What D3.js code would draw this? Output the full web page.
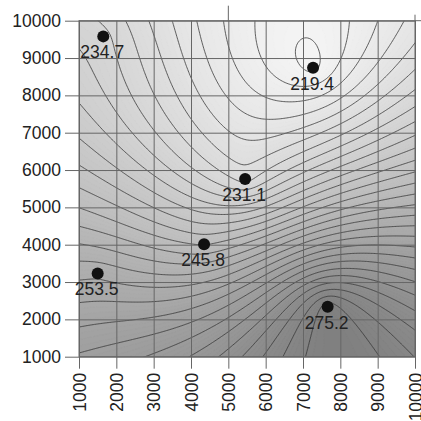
<!DOCTYPE html>
<html>
<head>
<meta charset="utf-8">
<script src="https://cdn.jsdelivr.net/npm/d3@7/dist/d3.min.js"></script>
<style>
  html, body { margin: 0; padding: 0; background: #fff; }
  svg text { font-family: "Liberation Sans", Arial, sans-serif; fill: #222; }
</style>
</head>
<body>
<svg id="chart" width="421" height="421"></svg>
<script>
// Sample locations and measured values
const sampleX = [1650, 7270, 5450, 4350, 1500, 7660];
const sampleY = [9580, 8740, 5760, 4010, 3230, 2340];
const sampleValue = [234.7, 219.4, 231.1, 245.8, 253.5, 275.2];
const sampleLabel = ["234.7", "219.4", "231.1", "245.8", "253.5", "275.2"];

// Axis ticks
const xTicks = [1000, 2000, 3000, 4000, 5000, 6000, 7000, 8000, 9000, 10000];
const yTicks = [1000, 2000, 3000, 4000, 5000, 6000, 7000, 8000, 9000, 10000];

// Contour line levels
const lineLevels = d3.range(200, 300.01, 2);

const svg = d3.select("#chart");
const x0 = 79, x1 = 415, y0 = 20.7, y1 = 356.7;
const x = d3.scaleLinear().domain([1000, 10000]).range([x0, x1]);
const y = d3.scaleLinear().domain([1000, 10000]).range([y1, y0]);

// Ordinary kriging with a linear variogram
const n = sampleX.length;
const px = sampleX.map(v => v / 1000), py = sampleY.map(v => v / 1000);
const gamma = h => h;
const N = n + 1;
const A = [];
for (let i = 0; i < N; i++) A.push(new Array(N + 1).fill(0));
for (let i = 0; i < n; i++) {
  for (let j = 0; j < n; j++) A[i][j] = gamma(Math.hypot(px[i] - px[j], py[i] - py[j]));
  A[i][n] = 1; A[n][i] = 1;
  A[i][N] = sampleValue[i];
}
for (let c = 0; c < N; c++) {
  let p = c;
  for (let r = c + 1; r < N; r++) if (Math.abs(A[r][c]) > Math.abs(A[p][c])) p = r;
  [A[c], A[p]] = [A[p], A[c]];
  for (let r = 0; r < N; r++) {
    if (r === c) continue;
    const f = A[r][c] / A[c][c];
    for (let k = c; k <= N; k++) A[r][k] -= f * A[c][k];
  }
}
const coef = A.map((row, i) => row[N] / row[i]);
function surface(dx, dy) {
  const u = dx / 1000, v = dy / 1000;
  let s = coef[n];
  for (let i = 0; i < n; i++) s += coef[i] * gamma(Math.hypot(u - px[i], v - py[i]));
  return s;
}

// Evaluate on a pixel grid that reaches a little beyond the plot frame
const step = 1.5, pad = 6;
const gx0 = x0 - pad, gy0 = y0 - pad;
const cols = Math.ceil((x1 - x0 + 2 * pad) / step), rows = Math.ceil((y1 - y0 + 2 * pad) / step);
const grid = new Array(cols * rows);
for (let j = 0; j < rows; j++) {
  for (let i = 0; i < cols; i++) {
    grid[j * cols + i] = surface(x.invert(gx0 + (i + 0.5) * step), y.invert(gy0 + (j + 0.5) * step));
  }
}
const gmin = d3.min(grid), gmax = d3.max(grid);
const toPixel = d3.geoTransform({
  point(a, b) { this.stream.point(gx0 + a * step, gy0 + b * step); }
});
const path = d3.geoPath(toPixel);

svg.append("clipPath").attr("id", "plot-clip")
  .append("rect").attr("x", x0).attr("y", y0).attr("width", x1 - x0).attr("height", y1 - y0);

// Continuous grey shading
const shade = d3.scaleLinear().domain([219, 276]).range(["#f6f6f6", "#7e7e7e"]).clamp(true);
const bandLevels = d3.range(Math.floor(gmin) - 1, gmax + 0.5, 0.5);
const plot = svg.append("g").attr("clip-path", "url(#plot-clip)");
plot.append("g").selectAll("path")
  .data(d3.contours().size([cols, rows]).thresholds(bandLevels)(grid))
  .join("path")
  .attr("d", path)
  .attr("fill", d => shade(d.value + 0.25))
  .attr("stroke", d => shade(d.value + 0.25))
  .attr("stroke-width", 0.3);

// Grid lines and ticks
const yAxis = d3.axisLeft(y).tickValues(yTicks).tickFormat(d3.format("d"))
  .tickSize(-(x1 - x0 + 14)).tickPadding(4);
const gy = svg.append("g").attr("transform", `translate(${x0 - 14},0)`).call(yAxis);
const xAxis = d3.axisBottom(x).tickValues(xTicks).tickFormat(d3.format("d"))
  .tickSize(-(y1 - y0 + 12)).tickPadding(4);
const gxAxis = svg.append("g").attr("transform", `translate(0,${y1 + 12})`).call(xAxis);
[gy, gxAxis].forEach(g => {
  g.select(".domain").remove();
  g.selectAll(".tick line").attr("stroke", "#666").attr("stroke-width", 1);
  g.selectAll(".tick text").attr("font-size", 17.5).attr("fill", "#222");
});
gxAxis.selectAll(".tick text")
  .attr("transform", "rotate(-90)")
  .attr("text-anchor", "end")
  .attr("x", -4).attr("y", 0).attr("dy", "0.36em").attr("dx", 0);

// Contour lines
plot.append("g").selectAll("path")
  .data(d3.contours().size([cols, rows]).thresholds(lineLevels)(grid))
  .join("path")
  .attr("d", path)
  .attr("fill", "none")
  .attr("stroke", "#3a3a3a")
  .attr("stroke-width", 0.8);

// Frame, with the short overhanging strokes along the top
svg.append("rect").attr("x", x0).attr("y", y0).attr("width", x1 - x0).attr("height", y1 - y0)
  .attr("fill", "none").attr("stroke", "#666").attr("stroke-width", 1);
svg.append("line").attr("x1", x1).attr("x2", 421).attr("y1", y0).attr("y2", y0)
  .attr("stroke", "#666").attr("stroke-width", 1);
svg.append("line").attr("x1", x(5000)).attr("x2", x(5000)).attr("y1", y0 - 15).attr("y2", y0)
  .attr("stroke", "#666").attr("stroke-width", 1);
svg.append("line").attr("x1", x1).attr("x2", x1).attr("y1", y0 - 6).attr("y2", y0)
  .attr("stroke", "#666").attr("stroke-width", 1);

// Sample points and value labels
const pts = svg.append("g");
pts.selectAll("circle").data(sampleValue).join("circle")
  .attr("cx", (d, i) => x(sampleX[i])).attr("cy", (d, i) => y(sampleY[i]))
  .attr("r", 6).attr("fill", "#111");
pts.selectAll("text").data(sampleLabel).join("text")
  .attr("x", (d, i) => x(sampleX[i]) - 1).attr("y", (d, i) => y(sampleY[i]) + 22)
  .attr("text-anchor", "middle").attr("font-size", 17.5).attr("fill", "#222")
  .text(d => d);
</script>
</body>
</html>
